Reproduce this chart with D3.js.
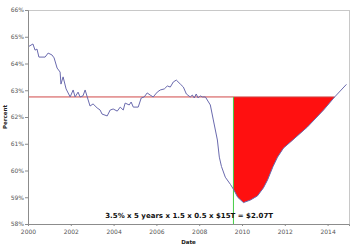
<!DOCTYPE html>
<html>
<head>
<meta charset="utf-8">
<script src="https://cdn.jsdelivr.net/npm/d3@7"></script>
<style>
  html, body { margin: 0; padding: 0; background: #fff; }
  svg { display: block; font-family: "DejaVu Sans", Verdana, sans-serif; }
</style>
</head>
<body>
<svg id="chart" width="360" height="247"></svg>
<script>
"use strict";

// employment / population ratio
var years = [
    2000.00, 2000.23, 2000.33, 2000.42, 2000.51, 2000.80, 2000.94, 2001.12, 2001.22, 2001.36,
    2001.50, 2001.54, 2001.64, 2001.78, 2001.97, 2002.11, 2002.20, 2002.34, 2002.43, 2002.57,
    2002.67, 2002.81, 2002.90, 2003.04, 2003.23, 2003.37, 2003.46, 2003.70, 2003.84, 2003.98,
    2004.17, 2004.31, 2004.45, 2004.54, 2004.73, 2004.82, 2004.92, 2005.15, 2005.29, 2005.43,
    2005.57, 2005.71, 2005.85, 2006.04, 2006.18, 2006.37, 2006.51, 2006.65, 2006.79, 2006.93,
    2007.12, 2007.26, 2007.40, 2007.58, 2007.68, 2007.77, 2007.86, 2007.95, 2008.05, 2008.15,
    2008.29, 2008.52, 2008.66, 2008.85, 2008.94, 2009.04, 2009.22, 2009.46, 2009.60, 2009.80,
    2010.07, 2010.40, 2010.72, 2011.00, 2011.19, 2011.45, 2011.66, 2011.94, 2012.27, 2013.06,
    2013.81, 2014.33, 2014.88
];
var percent = [
    64.62, 64.73, 64.50, 64.54, 64.24, 64.24, 64.39, 64.32, 64.21, 63.83,
    63.68, 63.23, 63.50, 63.05, 62.75, 63.01, 62.75, 62.93, 62.75, 62.79,
    63.01, 62.64, 62.41, 62.49, 62.34, 62.26, 62.11, 62.04, 62.26, 62.30,
    62.22, 62.37, 62.26, 62.52, 62.45, 62.56, 62.37, 62.37, 62.71, 62.75,
    62.90, 62.82, 62.75, 62.93, 63.01, 63.05, 63.16, 63.12, 63.31, 63.38,
    63.23, 63.12, 62.86, 62.75, 62.82, 62.71, 62.86, 62.71, 62.79, 62.75,
    62.75, 62.45, 61.89, 61.14, 60.50, 60.15, 59.75, 59.48, 59.30, 59.00,
    58.80, 58.90, 59.05, 59.35, 59.64, 60.15, 60.50, 60.84, 61.07, 61.63,
    62.26, 62.75, 63.22
];

var baseline = 62.75;      // pre-recession level
var gapStart = 2009.6;     // start of the 5 years
var gapEnd = 2014.33;      // where the curve gets back to the baseline

var xTicks = [2000, 2002, 2004, 2006, 2008, 2010, 2012, 2014];
var yTicks = [58, 59, 60, 61, 62, 63, 64, 65, 66];
var note = "3.5% x 5 years x 1.5 x 0.5 x $15T = $2.07T";

var svg = d3.select("#chart");
var W = 360, H = 247;
var margin = {top: 10, right: 11, bottom: 23, left: 28};
var w = W - margin.left - margin.right;
var h = H - margin.top - margin.bottom;

var x = d3.scaleLinear().domain([2000, 2015]).range([0, w]);
var y = d3.scaleLinear().domain([58, 66]).range([h, 0]);

var g = svg.append("g").attr("transform", "translate(" + margin.left + "," + margin.top + ")");

var data = years.map(function(yr, i) { return {x: yr, y: percent[i]}; });

// frame (top/right light)
g.append("rect")
    .attr("x", 0.5).attr("y", 0.5)
    .attr("width", w).attr("height", h)
    .attr("fill", "none").attr("stroke", "#c8c8c8");

// red gap area
var gap = data.filter(function(d) { return d.x >= gapStart && d.x <= gapEnd; });
g.append("path")
    .datum(gap)
    .attr("fill", "#ff1010")
    .attr("d", d3.area()
        .x(function(d) { return x(d.x); })
        .y0(y(baseline))
        .y1(function(d) { return y(d.y); }));

// baseline
g.append("line")
    .attr("x1", x(2000)).attr("x2", x(gapEnd))
    .attr("y1", y(baseline)).attr("y2", y(baseline))
    .attr("stroke", "#d04848").attr("stroke-width", 1);

// start marker
g.append("line")
    .attr("x1", x(gapStart)).attr("x2", x(gapStart))
    .attr("y1", y(baseline)).attr("y2", h)
    .attr("stroke", "#44cc44").attr("stroke-width", 1);

// series
g.append("path")
    .datum(data)
    .attr("fill", "none")
    .attr("stroke", "#6a6aae")
    .attr("stroke-width", 1)
    .attr("stroke-linejoin", "round")
    .attr("d", d3.line().x(function(d) { return x(d.x); }).y(function(d) { return y(d.y); }));

// axes
var yAxis = g.append("g")
    .call(d3.axisLeft(y).tickValues(yTicks).tickSize(3).tickPadding(1)
        .tickFormat(function(d) { return d + "%"; }));
var xAxis = g.append("g")
    .attr("transform", "translate(0," + h + ")")
    .call(d3.axisBottom(x).tickValues(xTicks).tickSize(2).tickPadding(4).tickFormat(d3.format("d")));

[xAxis, yAxis].forEach(function(a) {
    a.select(".domain").attr("stroke", "#8c8c8c");
    a.selectAll(".tick line").attr("stroke", "#8c8c8c");
    a.selectAll(".tick text")
        .attr("fill", "#555")
        .style("font-size", "6px")
        .style("font-family", "'DejaVu Sans', Verdana, sans-serif");
});

// labels
g.append("text")
    .attr("x", x(2007.53)).attr("y", h - 6)
    .attr("text-anchor", "middle")
    .style("font-size", "7px").style("font-weight", "bold")
    .attr("fill", "#111")
    .text(note);

g.append("text")
    .attr("x", w / 2).attr("y", h + 20)
    .attr("text-anchor", "middle")
    .style("font-size", "5.5px").style("font-weight", "bold")
    .attr("fill", "#222")
    .text("Date");

g.append("text")
    .attr("transform", "translate(" + (-21) + "," + (h / 2) + ") rotate(-90)")
    .attr("text-anchor", "middle")
    .style("font-size", "5.5px").style("font-weight", "bold")
    .attr("fill", "#222")
    .text("Percent");
</script>
</body>
</html>
